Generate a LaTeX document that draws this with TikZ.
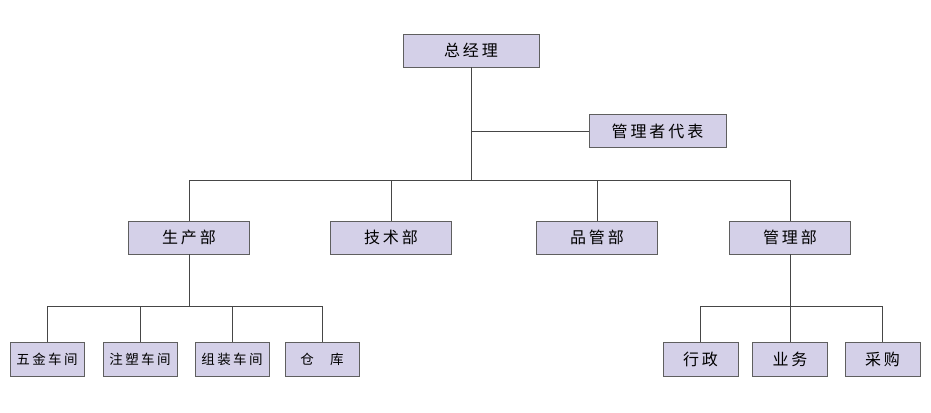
\documentclass[tikz,border=0pt]{standalone}
\usepackage{fontspec}
\newfontfamily\cjk[LetterSpace=18]{Noto Sans CJK SC}
\definecolor{boxfill}{RGB}{212,208,232}
\definecolor{boxline}{RGB}{95,95,95}
\definecolor{wire}{RGB}{70,70,70}
\tikzset{
  box/.style={draw=boxline, fill=boxfill, line width=0.9pt, inner sep=0pt,
    minimum height=33pt, font=\cjk\fontsize{16}{16}\selectfont},
  topbox/.style={box, minimum width=136pt},
  deptbox/.style={box, minimum width=121pt},
  unitbox/.style={box, minimum width=74pt, minimum height=34pt, font=\cjk\fontsize{13.5}{14}\selectfont},
  smallbox/.style={box, minimum width=75pt, minimum height=34pt},
  wire/.style={draw=wire, line width=0.8pt}
}
\begin{document}
\begin{tikzpicture}[x=1pt, y=1pt]
    \useasboundingbox (0,0) rectangle (931,412);

    % Top
    \node[topbox] (zjl) at (471,361.5) {总经理};
    \node[topbox, minimum width=137pt] (gldb) at (657.5,281) {管理者代表};

    % Departments
    \node[deptbox] (scb) at (189,174.5) {生产部};
    \node[deptbox] (jsb) at (391,174.5) {技术部};
    \node[deptbox] (pgb) at (597,174.5) {品管部};
    \node[deptbox] (glb) at (790,174.5) {管理部};

    % Workshops under production
    \node[unitbox] (wj) at (47,53) {五金车间};
    \node[unitbox] (zs) at (140,53) {注塑车间};
    \node[unitbox] (zz) at (232,53) {组装车间};
    \node[unitbox] (ck) at (322,53) {仓\hspace{1.2em}库};

    % Sections under administration
    \node[smallbox] (xz) at (700.5,53) {行政};
    \node[smallbox] (yw) at (790,53) {业务};
    \node[smallbox] (cg) at (882.5,53) {采购};

    % Bus points
    \coordinate (topbus) at (471,232);
    \coordinate (scbus) at (189,106);
    \coordinate (glbus) at (790,106);

    % Connectors
    \draw[wire] (zjl.south) -- (topbus);
    \draw[wire] (zjl.south |- gldb.west) -- (gldb.west);
    \draw[wire] (topbus) -| (scb.north);
    \draw[wire] (topbus) -| (jsb.north);
    \draw[wire] (topbus) -| (pgb.north);
    \draw[wire] (topbus) -| (glb.north);

    \draw[wire] (scb.south) -- (scbus);
    \draw[wire] (scbus) -| (wj.north);
    \draw[wire] (scbus) -| (zs.north);
    \draw[wire] (scbus) -| (zz.north);
    \draw[wire] (scbus) -| (ck.north);

    \draw[wire] (glb.south) -- (yw.north);
    \draw[wire] (glbus) -| (xz.north);
    \draw[wire] (glbus) -| (cg.north);
\end{tikzpicture}
\end{document}
